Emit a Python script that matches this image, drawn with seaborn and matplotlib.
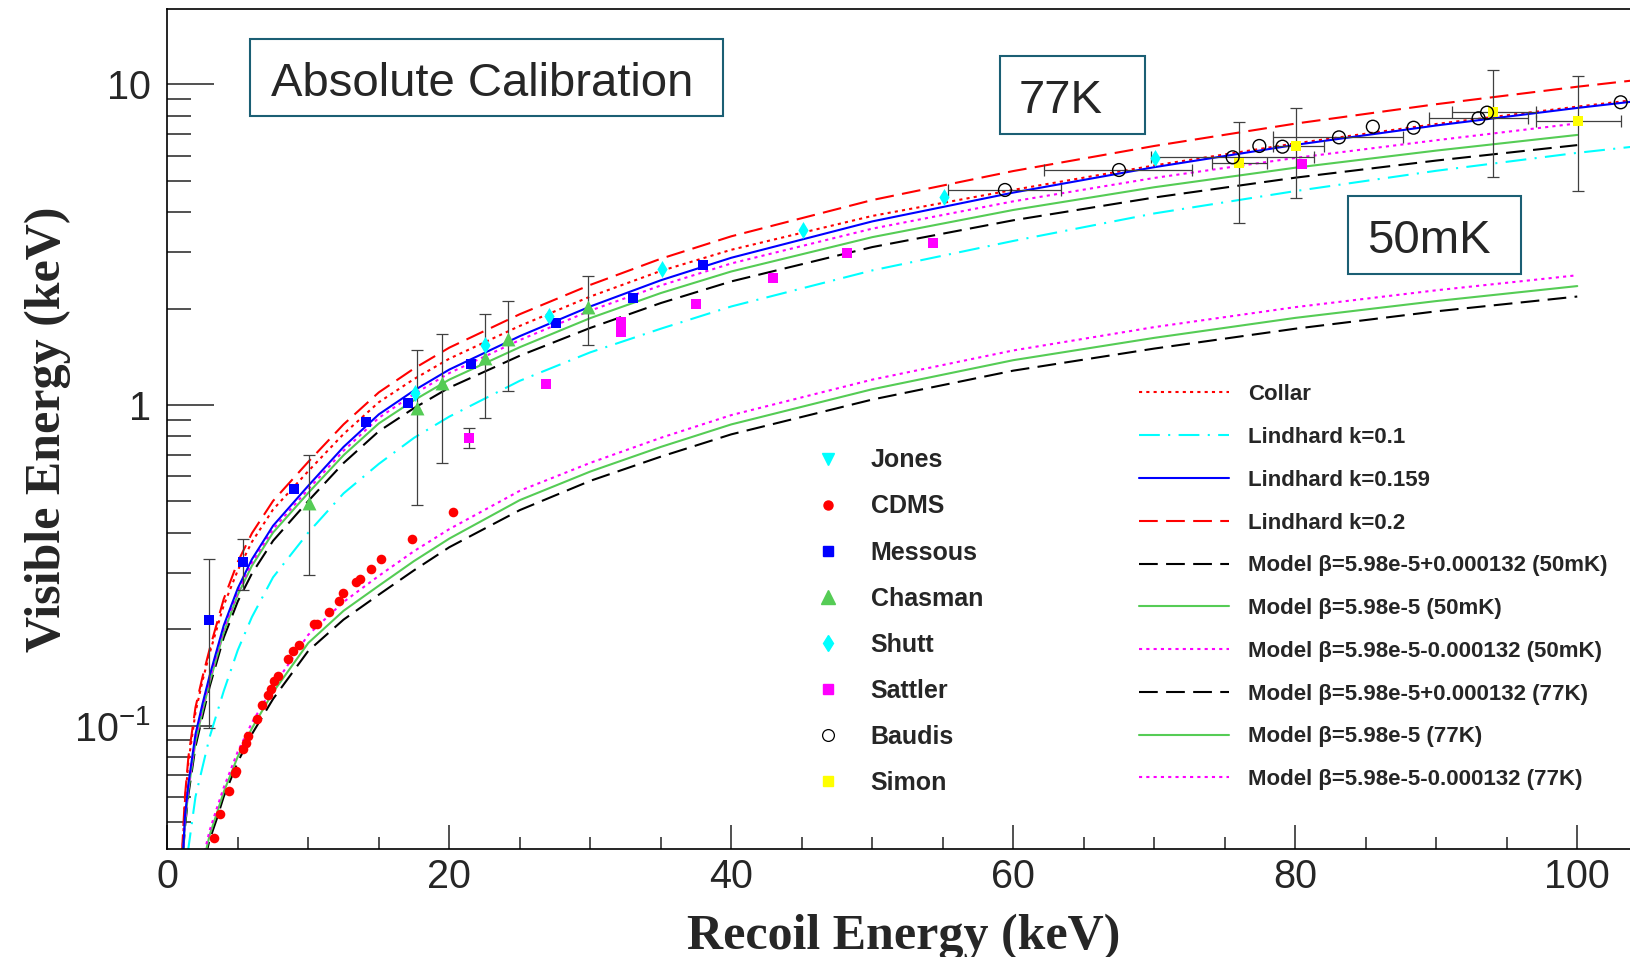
import numpy as np
import matplotlib
matplotlib.use("Agg")
import matplotlib.pyplot as plt
import seaborn as sns
from matplotlib.lines import Line2D
from matplotlib.patches import Rectangle
from matplotlib.ticker import MultipleLocator, LogLocator, NullFormatter

# ---------------- curves (keV) ----------------
# Lindhard / Collar (77K band)
e_k02 = [1.04, 1.25, 1.5, 2, 2.5, 3, 4, 5, 6, 7.5, 10, 12.5, 15, 17.5, 20, 25, 30, 35, 40, 50, 60, 70, 80, 90, 100, 104]
v_k02 = [0.040, 0.060, 0.080, 0.114, 0.142, 0.173, 0.248, 0.324, 0.398, 0.502, 0.665, 0.87, 1.095, 1.30, 1.51,
         1.92, 2.37, 2.86, 3.36, 4.36, 5.37, 6.43, 7.55, 8.68, 9.84, 10.3]
e_collar = [1.07, 1.25, 1.5, 2, 2.5, 3, 4, 5, 6, 7.5, 10, 12.5, 15, 17.5, 20, 25, 30, 35, 40, 50, 60, 70, 80, 90, 100, 104]
v_collar = [0.040, 0.058, 0.077, 0.110, 0.138, 0.168, 0.237, 0.305, 0.374, 0.472, 0.622, 0.812, 1.02, 1.205, 1.395,
            1.765, 2.18, 2.62, 3.05, 3.89, 4.69, 5.59, 6.55, 7.53, 8.53, 8.94]
e_k0159 = [1.12, 1.25, 1.5, 2, 2.5, 3, 4, 5, 6, 7.5, 10, 12.5, 15, 17.5, 20, 25, 30, 35, 40, 50, 60, 70, 80, 90, 100, 104]
v_k0159 = [0.040, 0.052, 0.066, 0.094, 0.117, 0.143, 0.205, 0.268, 0.33, 0.42, 0.56, 0.74, 0.935, 1.11, 1.29,
           1.64, 2.03, 2.45, 2.88, 3.74, 4.6, 5.52, 6.48, 7.45, 8.45, 8.85]
e_k01 = [1.45, 2, 3, 4, 5, 6, 7.5, 10, 12.5, 15, 17.5, 20, 25, 30, 35, 40, 50, 60, 70, 80, 90, 100, 104]
v_k01 = [0.040, 0.060, 0.092, 0.128, 0.172, 0.218, 0.29, 0.40, 0.53, 0.655, 0.79, 0.92, 1.19, 1.46, 1.73,
         2.03, 2.63, 3.25, 3.96, 4.65, 5.38, 6.12, 6.4]

# Model curves, 77K
e_m77 = [1.12, 1.25, 1.5, 2, 2.5, 3, 4, 5, 6, 7.5, 10, 12.5, 15, 17.5, 20, 25, 30, 35, 40, 50, 60, 70, 80, 90, 100]
m77_plus = [0.040, 0.048, 0.061, 0.086, 0.107, 0.132, 0.188, 0.244, 0.298, 0.377, 0.502, 0.659, 0.828, 0.978, 1.133,
            1.425, 1.74, 2.08, 2.43, 3.11, 3.77, 4.44, 5.12, 5.79, 6.47]
m77_mid = [0.040, 0.049, 0.063, 0.089, 0.111, 0.136, 0.195, 0.256, 0.315, 0.40, 0.532, 0.697, 0.876, 1.035, 1.20,
           1.515, 1.867, 2.235, 2.61, 3.34, 4.06, 4.78, 5.5, 6.22, 6.96]
m77_minus = [0.040, 0.050, 0.064, 0.091, 0.114, 0.139, 0.2, 0.261, 0.322, 0.41, 0.546, 0.72, 0.912, 1.082, 1.258,
             1.595, 1.97, 2.36, 2.765, 3.55, 4.32, 5.11, 5.9, 6.7, 7.56]

# Model curves, 50mK
e_m50 = [2.65, 3, 3.5, 4, 5, 6, 7.5, 10, 12.5, 15, 17.5, 20, 25, 30, 35, 40, 50, 60, 70, 80, 90, 100]
m50_plus = [0.038, 0.044, 0.051, 0.060, 0.077, 0.094, 0.121, 0.171, 0.214, 0.256, 0.305, 0.36, 0.47, 0.58, 0.69,
            0.81, 1.04, 1.28, 1.5, 1.73, 1.96, 2.18]
m50_mid = [0.039, 0.0455, 0.053, 0.062, 0.080, 0.098, 0.127, 0.181, 0.228, 0.273, 0.326, 0.383, 0.505, 0.62, 0.74,
           0.87, 1.12, 1.38, 1.62, 1.87, 2.11, 2.35]
m50_minus = [0.0405, 0.047, 0.055, 0.064, 0.083, 0.102, 0.132, 0.192, 0.243, 0.293, 0.35, 0.41, 0.54, 0.66, 0.79,
             0.93, 1.2, 1.48, 1.75, 2.02, 2.28, 2.54]

# ---------------- measurements ----------------
cdms_e = [3.34, 3.74, 4.35, 4.83, 4.88, 5.34, 5.58, 5.75, 6.38, 6.74, 7.17, 7.33, 7.57, 7.87, 8.56, 8.94, 9.36,
          10.40, 10.59, 11.49, 12.17, 12.44, 13.38, 13.67, 14.42, 15.16, 17.35, 20.24]
cdms_v = [0.0445, 0.0528, 0.0625, 0.0709, 0.0722, 0.0842, 0.088, 0.093, 0.1045, 0.1156, 0.1245, 0.1297, 0.138,
          0.143, 0.1608, 0.1703, 0.1778, 0.2073, 0.208, 0.226, 0.2446, 0.2598, 0.281, 0.287, 0.307, 0.330, 0.381, 0.465]

mes_e = [2.93, 5.37, 9.01, 14.07, 17.07, 21.54, 27.55, 33.0, 38.02]
mes_v = [0.213, 0.323, 0.547, 0.887, 1.017, 1.346, 1.806, 2.152, 2.734]
mes_err_e = [2.93, 5.37]
mes_err_v = [0.213, 0.323]
mes_lo = [0.098, 0.265]
mes_hi = [0.330, 0.381]

cha_e = [10.07, 17.69, 19.46, 22.53, 24.19, 29.86]
cha_v = [0.493, 0.976, 1.169, 1.398, 1.603, 2.027]
cha_lo = [0.295, 0.488, 0.661, 0.909, 1.106, 1.535]
cha_hi = [0.698, 1.49, 1.662, 1.918, 2.11, 2.532]

shu_e = [17.54, 22.53, 27.07, 35.1, 45.06, 55.08, 70.05]
shu_v = [1.087, 1.539, 1.895, 2.651, 3.516, 4.446, 5.9]

sat_e = [21.4, 26.84, 32.2, 32.2, 37.47, 42.93, 48.23, 54.33, 80.45]
sat_v = [0.791, 1.163, 1.69, 1.82, 2.066, 2.485, 2.988, 3.194, 5.636]
sat_err_e = [21.4]
sat_err_v = [0.791]
sat_lo = [0.732]
sat_hi = [0.85]

bau_e = [59.41, 67.5, 75.56, 77.45, 79.09, 83.1, 85.5, 88.39, 93.0, 93.6, 103.08]
bau_v = [4.687, 5.41, 5.928, 6.43, 6.397, 6.84, 7.385, 7.33, 7.845, 8.17, 8.8]
bau_err_e = [59.41, 67.5, 75.56, 83.1, 93.0]
bau_err_v = [4.687, 5.41, 5.928, 6.84, 7.845]
bau_xlo = [55.39, 62.2, 69.8, 78.45, 89.5]
bau_xhi = [63.36, 72.7, 81.35, 87.66, 96.5]

sim_e = [76.03, 80.05, 94.05, 100.07]
sim_v = [5.704, 6.44, 8.19, 7.69]
sim_ylo = [3.688, 4.414, 5.13, 4.66]
sim_yhi = [7.66, 8.43, 11.1, 10.63]
sim_xlo = [74.1, 78.45, 91.1, 97.07]
sim_xhi = [78.0, 82.06, 97.1, 103.08]

# ---------------- style ----------------
sns.set_style("white")
plt.rcParams['font.family'] = ['Liberation Sans', 'DejaVu Sans']
plt.rcParams['mathtext.fontset'] = 'custom'
plt.rcParams['mathtext.rm'] = 'Liberation Sans'

RED, CYAN, BLUE, GREEN, MAG, YEL = '#ff0000', '#00ffff', '#0000ff', '#55cc55', '#ff00ff', '#ffff00'
DOT = (0, (1.5, 2))
DASH = (0, (9, 4))
DASHDOT = (0, (10, 4, 1, 4))
ERR = '#404040'
LW = 1.5

W, H = 1630, 957
fig = plt.figure(figsize=(W / 100, H / 100), dpi=100)
ax = fig.add_axes([167.3 / W, 1 - 849.3 / H, (W - 167.3) / W, (849.3 - 9) / H])


def curve(e, v, color, ls):
    sns.lineplot(x=e, y=v, color=color, linestyle=ls, linewidth=LW, ax=ax,
                 sort=False, estimator=None, legend=False, zorder=2)


curve(e_k02, v_k02, RED, DASH)
curve(e_collar, v_collar, RED, DOT)
curve(e_k01, v_k01, CYAN, DASHDOT)
curve(e_m77, m77_plus, 'black', DASH)
curve(e_m77, m77_mid, GREEN, '-')
curve(e_m77, m77_minus, MAG, DOT)
curve(e_k0159, v_k0159, BLUE, '-')
curve(e_m50, m50_plus, 'black', DASH)
curve(e_m50, m50_mid, GREEN, '-')
curve(e_m50, m50_minus, MAG, DOT)

# error bars
ekw = dict(fmt='none', ecolor=ERR, elinewidth=0.9, capsize=4.3, capthick=0.9, zorder=3)
ax.errorbar(mes_err_e, mes_err_v, yerr=[np.subtract(mes_err_v, mes_lo), np.subtract(mes_hi, mes_err_v)], **ekw)
ax.errorbar(cha_e, cha_v, yerr=[np.subtract(cha_v, cha_lo), np.subtract(cha_hi, cha_v)], **ekw)
ax.errorbar(sat_err_e, sat_err_v, yerr=[np.subtract(sat_err_v, sat_lo), np.subtract(sat_hi, sat_err_v)], **ekw)
ax.errorbar(bau_err_e, bau_err_v, xerr=[np.subtract(bau_err_e, bau_xlo), np.subtract(bau_xhi, bau_err_e)], **ekw)
ax.errorbar(sim_e, sim_v, xerr=[np.subtract(sim_e, sim_xlo), np.subtract(sim_xhi, sim_e)],
            yerr=[np.subtract(sim_v, sim_ylo), np.subtract(sim_yhi, sim_v)], **ekw)

# markers
skw = dict(ax=ax, legend=False, zorder=4, linewidth=0)
sns.scatterplot(x=cdms_e, y=cdms_v, marker='o', s=48, color=RED, **skw)
sns.scatterplot(x=mes_e, y=mes_v, marker='s', s=58, color=BLUE, **skw)
sns.scatterplot(x=cha_e, y=cha_v, marker='^', s=100, color=GREEN, **skw)
sns.scatterplot(x=shu_e, y=shu_v, marker='d', s=75, color=CYAN, **skw)
sns.scatterplot(x=sat_e, y=sat_v, marker='s', s=52, color=MAG, **skw)
sns.scatterplot(x=sim_e, y=sim_v, marker='s', s=58, color=YEL, **skw)
sns.scatterplot(x=bau_e, y=bau_v, marker='o', s=85, color='black', facecolor='none', edgecolor='black',
                ax=ax, legend=False, zorder=4, linewidth=1.0)

# ---------------- axes ----------------
ax.set_xlim(0, 103.74)
ax.set_yscale('log')
ax.set_ylim(0.0411, 17.2)
ax.xaxis.set_major_locator(MultipleLocator(20))
ax.xaxis.set_minor_locator(MultipleLocator(5))
ax.set_yticks([0.1, 1, 10], labels=[r'$\mathdefault{10^{-1}}$', '1', '10'])
ax.yaxis.set_minor_locator(LogLocator(base=10, subs=np.arange(2, 10)))
ax.yaxis.set_minor_formatter(NullFormatter())
ax.tick_params(bottom=True, left=True, top=False, right=False, which='both')
ax.tick_params(axis='x', which='major', direction='in', length=17, width=1.1, pad=6, labelsize=28.5, color='#222222')
ax.tick_params(axis='x', which='minor', direction='in', length=8.6, width=1.1, color='#222222')
ax.tick_params(axis='y', which='major', direction='in', length=34, width=1.1, pad=12, labelsize=28.5, color='#222222')
ax.tick_params(axis='y', which='minor', direction='in', length=17.3, width=1.1, color='#222222')
ax.spines['right'].set_visible(False)
for s in ['left', 'bottom', 'top']:
    ax.spines[s].set_linewidth(1.2)
    ax.spines[s].set_color('black')

lab = dict(family=['Liberation Serif', 'DejaVu Serif'], weight='bold', size=36)
ax.set_xlabel('Recoil Energy (keV)', va='baseline', **lab)
ax.xaxis.set_label_coords((904 - 167.3) / (W - 167.3), (849.3 - 949) / 840.3)
ax.set_ylabel('Visible Energy (keV)', va='baseline', rotation=90, **lab)
ax.yaxis.set_label_coords((60 - 167.3) / (W - 167.3), 0.5)

# ---------------- boxed labels ----------------
BOXC = '#1b5f74'
for (x0, y0, x1, y1), txt, tx, ty in [((250, 39, 723, 116), 'Absolute Calibration', 271, 96),
                                       ((999.5, 56, 1144.5, 133.5), '77K', 1019, 113.3),
                                       ((1348, 196, 1521, 274), '50mK', 1367, 253.3)]:
    fig.add_artist(Rectangle((x0 / W, 1 - y1 / H), (x1 - x0) / W, (y1 - y0) / H, transform=fig.transFigure,
                             fill=True, facecolor='white', edgecolor=BOXC, linewidth=1.5, zorder=5))
    fig.text(tx / W, 1 - ty / H, txt, fontsize=34, ha='left', va='baseline', zorder=6)

# ---------------- legends ----------------
pts = [('Jones', dict(marker='v', color=CYAN, markersize=8.5)),
       ('CDMS', dict(marker='o', color=RED, markersize=6.5)),
       ('Messous', dict(marker='s', color=BLUE, markersize=7)),
       ('Chasman', dict(marker='^', color=GREEN, markersize=9.5)),
       ('Shutt', dict(marker='d', color=CYAN, markersize=8)),
       ('Sattler', dict(marker='s', color=MAG, markersize=7)),
       ('Baudis', dict(marker='o', color='black', markerfacecolor='none', markersize=8.5, markeredgewidth=0.9)),
       ('Simon', dict(marker='s', color=YEL, markersize=7))]
h1 = [Line2D([], [], linestyle='none', **kw) for _, kw in pts]
leg1 = ax.legend(h1, [n for n, _ in pts], loc='upper left', bbox_to_anchor=(815.2 / W, 1 - 448.3 / H),
                 bbox_transform=fig.transFigure, frameon=False, borderpad=0, borderaxespad=0,
                 handlelength=1.0, handletextpad=1.22, labelspacing=0.884,
                 prop=dict(family='Liberation Sans', weight='bold', size=18))
ax.add_artist(leg1)

lines = [('Collar', RED, DOT),
         ('Lindhard k=0.1', CYAN, DASHDOT),
         ('Lindhard k=0.159', BLUE, '-'),
         ('Lindhard k=0.2', RED, DASH),
         ('Model \u03b2=5.98e-5+0.000132 (50mK)', 'black', DASH),
         ('Model \u03b2=5.98e-5 (50mK)', GREEN, '-'),
         ('Model \u03b2=5.98e-5-0.000132 (50mK)', MAG, DOT),
         ('Model \u03b2=5.98e-5+0.000132 (77K)', 'black', DASH),
         ('Model \u03b2=5.98e-5 (77K)', GREEN, '-'),
         ('Model \u03b2=5.98e-5-0.000132 (77K)', MAG, DOT)]
h2 = [Line2D([], [], color=c, linestyle=ls, linewidth=LW) for _, c, ls in lines]
ax.legend(h2, [n for n, _, _ in lines], loc='upper left', bbox_to_anchor=(1138.9 / W, 1 - 384.2 / H),
          bbox_transform=fig.transFigure, frameon=False, borderpad=0, borderaxespad=0,
          handlelength=4.04, handletextpad=0.88, labelspacing=0.98,
          prop=dict(family='Liberation Sans', weight='bold', size=16))

fig.savefig('out.png', dpi=100)
